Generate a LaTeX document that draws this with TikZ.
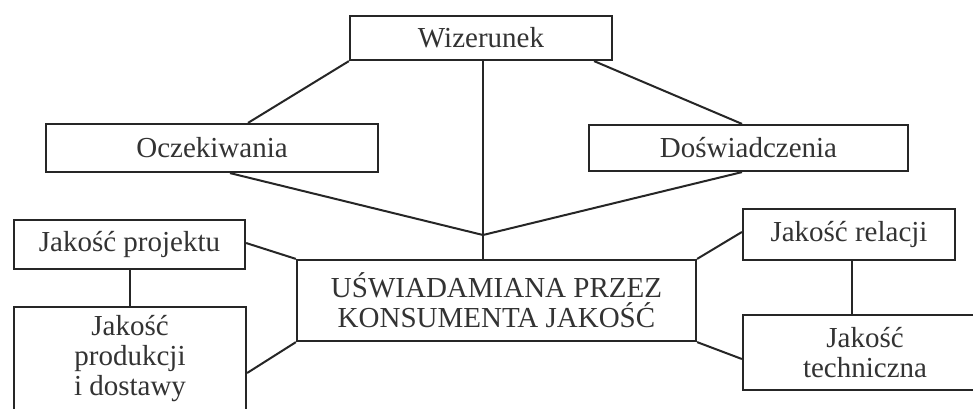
\documentclass[tikz,border=0pt]{standalone}
\usepackage{fontspec}
\setmainfont{Liberation Serif}
\usetikzlibrary{calc}
\begin{document}
\begin{tikzpicture}[x=1pt,y=-1pt,
  box/.style={draw=black!85, line width=2.2pt, rectangle, inner sep=0pt, align=center,
    text=black!80, font=\fontsize{29}{30}\selectfont},
  conn/.style={draw=black!85, line width=2pt}]
\useasboundingbox (0,0) rectangle (973,408);
\clip (0,0) rectangle (973,408);
\fill[white] (0,0) rectangle (973,408);
% boxes
\node[box, minimum width=262pt, minimum height=44pt] (wiz) at (481,38) {Wizerunek};
\node[box, minimum width=332pt, minimum height=48pt] (ocz) at (212,148) {Oczekiwania};
\node[box, minimum width=319pt, minimum height=46pt] (dos) at (748.5,148) {Doświadczenia};
\node[box, minimum width=399pt, minimum height=81pt] (cen) at (496.5,300.5) {UŚWIADAMIANA PRZEZ\\KONSUMENTA JAKOŚĆ};
\node[box, minimum width=231pt, minimum height=49pt] (proj) at (129.5,244.5) {Jakość projektu};
\node[box, minimum width=232pt, minimum height=104pt] (prod) at (130,359) {Jakość\\produkcji\\i dostawy};
\node[box, minimum width=212pt, minimum height=51pt] (rel) at (849,234.5) {Jakość relacji};
\node[box, minimum width=244pt, minimum height=75pt] (tech) at (865,352.5) {Jakość\\techniczna};
% junction
\coordinate (j) at (483,235);
% connectors
\draw[conn] (wiz.south west) -- ([xshift=36pt]ocz.north);
\draw[conn] ([xshift=-19pt]wiz.south east) -- ([xshift=-6.5pt]dos.north);
\draw[conn] (j |- wiz.south) -- (j);
\draw[conn] ([xshift=18pt]ocz.south) -- (j);
\draw[conn] ([xshift=-6.5pt]dos.south) -- (j);
\draw[conn] (j) -- (j |- cen.north);
\draw[conn] ([yshift=1.5pt]proj.east) -- (cen.north west);
\draw[conn] ([yshift=-14pt]prod.east) -- (cen.south west);
\draw[conn] (cen.north east) -- ([yshift=2.5pt]rel.west);
\draw[conn] (cen.south east) -- ([yshift=-6.5pt]tech.west);
\draw[conn] (proj.south) -- (proj.south |- prod.north);
\draw[conn] ([xshift=3pt]rel.south) -- ([xshift=3pt]rel.south |- tech.north);
\end{tikzpicture}
\end{document}
